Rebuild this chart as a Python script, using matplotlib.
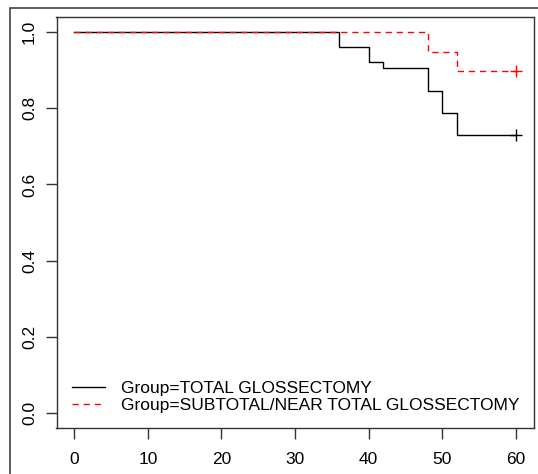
import matplotlib
matplotlib.use("Agg")
import matplotlib.pyplot as plt
from matplotlib.patches import Rectangle

plt.rcParams['font.family'] = ['Liberation Sans', 'DejaVu Sans']

# Kaplan-Meier estimates
total_times = [0, 36, 40, 42, 48, 50, 52, 60]
total_surv = [1.0, 0.962, 0.923, 0.905, 0.846, 0.787, 0.730, 0.730]
sub_times = [0, 48, 52, 60]
sub_surv = [1.0, 0.948, 0.898, 0.898]
censor_time = 60

x_ticks = [0, 10, 20, 30, 40, 50, 60]
y_ticks = [0.0, 0.2, 0.4, 0.6, 0.8, 1.0]

W, H = 538, 474
fig = plt.figure(figsize=(W / 100, H / 100), dpi=100)
ax = fig.add_axes([56.5 / W, (H - 428) / H, (533.7 - 56.5) / W, (428 - 17) / H])

ax.step(total_times, total_surv, where='post', color='black', lw=1.0,
        label='Group=TOTAL GLOSSECTOMY')
ax.step(sub_times, sub_surv, where='post', color='red', lw=1.0,
        linestyle=(0, (4.5, 3.5)), label='Group=SUBTOTAL/NEAR TOTAL GLOSSECTOMY')
ax.plot([censor_time], [total_surv[-1]], marker='+', color='black', ms=9, mew=1.0)
ax.plot([censor_time], [sub_surv[-1]], marker='+', color='red', ms=9, mew=1.0)

ax.set_xlim(-2.4, 62.4)
ax.set_ylim(-0.04, 1.04)
ax.set_xticks(x_ticks)
ax.set_xticklabels([str(t) for t in x_ticks])
ax.set_yticks(y_ticks)
ax.set_yticklabels(['%.1f' % t for t in y_ticks], rotation=90, va='center')
ax.tick_params(axis='both', length=8, width=1.0, color='#333333', labelsize=12.5)
ax.tick_params(axis='x', pad=9)
ax.tick_params(axis='y', pad=6)
for s in ax.spines.values():
    s.set_linewidth(1.0)
    s.set_color('#333333')

leg = ax.legend(loc='center left', bbox_to_anchor=(0.0335, 0.076), frameon=False,
                fontsize=12.5, handlelength=1.85, handletextpad=0.92,
                labelspacing=0.1, borderaxespad=0, borderpad=0)

# outer frame (cut off at right and bottom)
fig.patches.append(Rectangle((10 / W, -0.1), 1.2, (H - 8) / H + 0.1,
                             transform=fig.transFigure, fill=False,
                             edgecolor='#444444', lw=1.2))

fig.savefig('out.png', dpi=100)
